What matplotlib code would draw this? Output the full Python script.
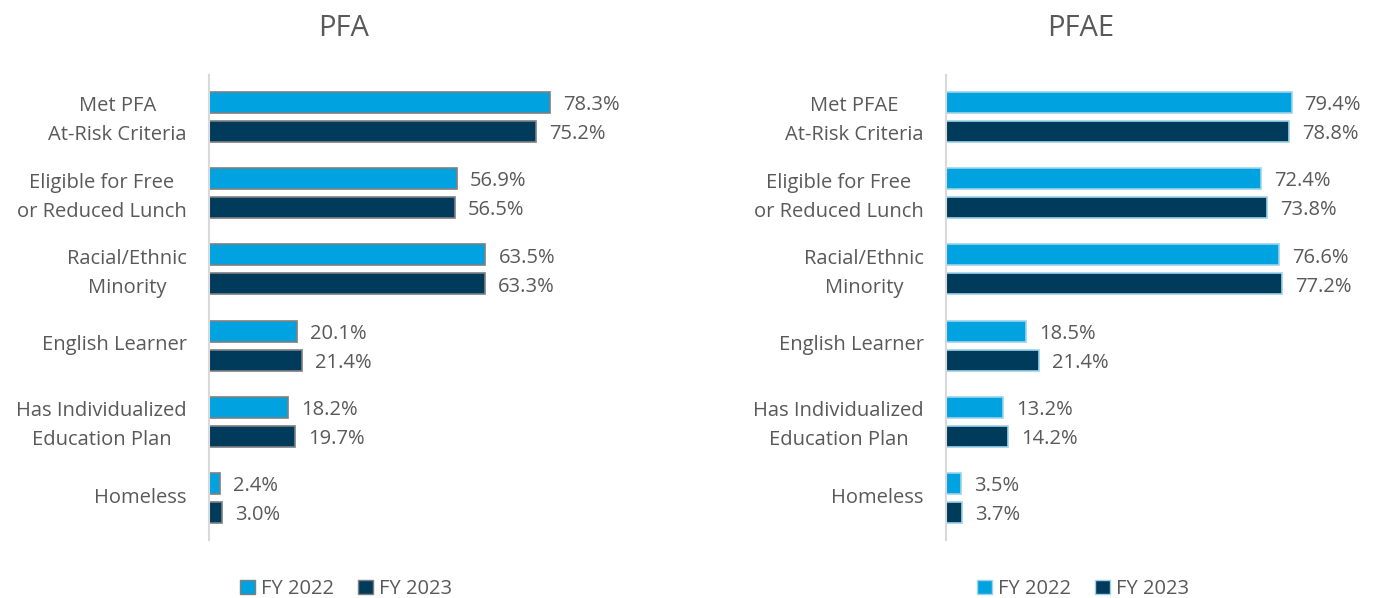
import matplotlib
matplotlib.use("Agg")
import matplotlib.pyplot as plt
from matplotlib.patches import Patch
import numpy as np

plt.rcParams['font.family'] = ['Open Sans', 'DejaVu Sans']

categories = ["Met PFA\nAt-Risk Criteria", "Eligible for Free\nor Reduced Lunch",
              "Racial/Ethnic\nMinority", "English Learner",
              "Has Individualized\nEducation Plan", "Homeless"]
categories_e = ["Met PFAE\nAt-Risk Criteria", "Eligible for Free\nor Reduced Lunch",
                "Racial/Ethnic\nMinority", "English Learner",
                "Has Individualized\nEducation Plan", "Homeless"]
pfa_2022 = [78.3, 56.9, 63.5, 20.1, 18.2, 2.4]
pfa_2023 = [75.2, 56.5, 63.3, 21.4, 19.7, 3.0]
pfae_2022 = [79.4, 72.4, 76.6, 18.5, 13.2, 3.5]
pfae_2023 = [78.8, 73.8, 77.2, 21.4, 14.2, 3.7]

c22 = "#00A3E0"
c23 = "#003B5C"
txt = "#595959"

fig = plt.figure(figsize=(13.79, 5.98), dpi=100)
ax1 = fig.add_axes([0.1516, 0.097, 0.284, 0.7776])
ax2 = fig.add_axes([0.686, 0.097, 0.284, 0.7776])


def panel(ax, title, cats, v22, v23, edge):
    y = np.arange(len(cats))
    h = 0.275
    off = 0.19
    ax.barh(y - off, v22, height=h, color=c22, edgecolor=edge, linewidth=1.2)
    ax.barh(y + off, v23, height=h, color=c23, edgecolor=edge, linewidth=1.2)
    for i in range(len(cats)):
        ax.text(v22[i] + 3, y[i] - off + 0.035, f"{v22[i]:.1f}%", va="center",
                ha="left", fontsize=14.5, color=txt)
        ax.text(v23[i] + 3, y[i] + off + 0.035, f"{v23[i]:.1f}%", va="center",
                ha="left", fontsize=14.5, color=txt)
    ax.set_xlim(0, 90)
    ax.set_ylim(5.55, -0.55)
    ax.set_yticks(y - 0.04)
    ax.set_yticklabels(cats, fontsize=14.5, color=txt, multialignment="center",
                       linespacing=1.6)
    ax.tick_params(axis="y", length=0, pad=16)
    ax.set_xticks([])
    for s in ["top", "right", "bottom"]:
        ax.spines[s].set_visible(False)
    ax.spines["left"].set_color("#d9d9d9")
    ax.spines["left"].set_linewidth(1.5)
    ax.set_title(title, fontsize=21, color=txt, pad=28, x=0.344)
    handles = [Patch(facecolor=c22, edgecolor=edge, label="FY 2022"),
               Patch(facecolor=c23, edgecolor=edge, label="FY 2023")]
    ax.legend(handles=handles, loc="upper center", bbox_to_anchor=(0.35, -0.045),
              ncol=2, frameon=False, fontsize=14.5, handlelength=0.75,
              handleheight=0.75, handletextpad=0.3, columnspacing=1.2,
              labelcolor=txt)


panel(ax1, "PFA", categories, pfa_2022, pfa_2023, "#7f7f7f")
panel(ax2, "PFAE", categories_e, pfae_2022, pfae_2023, "#9dd3ea")

fig.savefig("out.png", dpi=100)
